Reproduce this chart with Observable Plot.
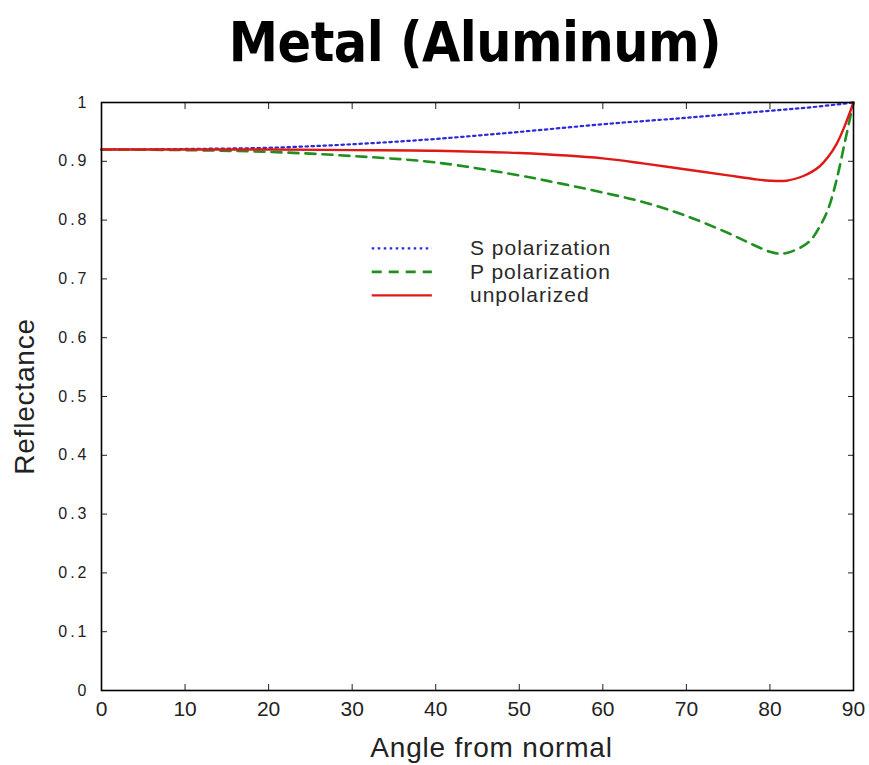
<!DOCTYPE html>
<html><head><meta charset="utf-8">
<script src="https://cdn.jsdelivr.net/npm/d3@7"></script>
<script src="https://cdn.jsdelivr.net/npm/@observablehq/plot@0.6"></script>
<style>
html,body{margin:0;padding:0;background:#fff;}
#wrap{position:relative;width:869px;height:765px;overflow:hidden;}
#title{position:absolute;left:0;top:15px;width:950px;text-align:center;font-family:"DejaVu Sans Condensed","DejaVu Sans",sans-serif;font-stretch:condensed;font-weight:bold;font-size:55px;line-height:55px;letter-spacing:-0.5px;color:#000;}
#chart{position:absolute;left:0;top:70px;}
</style></head>
<body><div id="wrap"><div id="title">Metal (Aluminum)</div><div id="chart"></div></div>
<script>
// Angles (degrees) and reflectance
const sAngles = [0, 10, 20, 30, 40, 50, 60, 70, 80, 85, 90];
const sValues = [0.92, 0.921, 0.923, 0.929, 0.938, 0.950, 0.963, 0.974, 0.986, 0.992, 1.0];

const pAngles = [0, 10, 20, 30, 40, 50, 55, 60, 65, 70, 75, 78, 80, 81, 82, 84, 85, 86, 87, 88, 89, 90];
const pValues = [0.92, 0.919, 0.916, 0.909, 0.898, 0.876, 0.862, 0.847, 0.830, 0.807, 0.778, 0.758, 0.746, 0.743, 0.744, 0.756, 0.768, 0.790, 0.820, 0.870, 0.935, 1.0];

const uAngles = [0, 10, 20, 30, 40, 50, 60, 65, 70, 75, 78, 80, 82, 84, 85, 86, 87, 88, 89, 90];
const uValues = [0.92, 0.92, 0.92, 0.919, 0.918, 0.914, 0.905, 0.896, 0.886, 0.876, 0.870, 0.867, 0.867, 0.875, 0.882, 0.892, 0.908, 0.930, 0.962, 1.0];

const seriesNames = ["S polarization", "P polarization", "unpolarized"];
const xTicks = [0, 10, 20, 30, 40, 50, 60, 70, 80, 90];
const yTicks = [0, 0.1, 0.2, 0.3, 0.4, 0.5, 0.6, 0.7, 0.8, 0.9, 1];

const styles = [
  {stroke: "#2a2ad8", strokeWidth: 2.2, strokeDasharray: "2.5,3.5"},
  {stroke: "#1f8f1f", strokeWidth: 2.6, strokeDasharray: "10,7"},
  {stroke: "#e01818", strokeWidth: 2.4}
];

const toRows = (angles, values) => angles.map((a, i) => ({angle: a, r: values[i]}));
const sRows = toRows(sAngles, sValues);
const pRows = toRows(pAngles, pValues);
const uRows = toRows(uAngles, uValues);

// legend placement (plot coordinates)
const legX1 = 32.4, legX2 = 39.6, legTX = 44.1;
const legY = [0.752, 0.712, 0.672];
const legRows = seriesNames.map((n, i) => ({name: n, y: legY[i], i}));

const fontFam = "'Liberation Sans', Arial, sans-serif";

const chart = Plot.plot({
  width: 869,
  height: 695,
  marginLeft: 101,
  marginRight: 16,
  marginTop: 32,
  marginBottom: 75,
  style: {fontFamily: fontFam, fontSize: "15px", color: "#222", background: "white"},
  x: {domain: [0, 90]},
  y: {domain: [0, 1]},
  marks: [
    Plot.axisX({ticks: xTicks, tickSize: -6, tickPadding: 17, tickFormat: d => String(d), label: "Angle from normal", labelAnchor: "center", labelOffset: 66, fontSize: 21}),
    Plot.axisX({anchor: "top", ticks: xTicks, tickSize: -6, tickFormat: () => "", label: null}),
    Plot.axisY({ticks: yTicks, tickSize: -6, tickPadding: 18, tickFormat: d => String(d), label: "Reflectance", labelAnchor: "center", labelOffset: 87, fontSize: 16}),
    Plot.axisY({anchor: "right", ticks: yTicks, tickSize: -6, tickFormat: () => "", label: null}),
    Plot.line(sRows, {x: "angle", y: "r", curve: "catmull-rom", ...styles[0]}),
    Plot.line(pRows, {x: "angle", y: "r", curve: "catmull-rom", ...styles[1]}),
    Plot.line(uRows, {x: "angle", y: "r", curve: "catmull-rom", ...styles[2]}),
    ...legRows.map(d => Plot.ruleY([d.y], {x1: legX1, x2: legX2, ...styles[d.i]})),
    Plot.text(legRows, {x: legTX, y: "y", text: "name", textAnchor: "start", fontSize: 21, fill: "#2a2a2a"}),
    Plot.frame({stroke: "#000", strokeWidth: 1.6})
  ]
});
// axis label styling: larger font, no arrows
chart.querySelectorAll("g[aria-label='x-axis label'] text, g[aria-label='y-axis label'] text").forEach(t => {
  t.setAttribute("font-size", "28");
  t.setAttribute("letter-spacing", "0.8");
  t.textContent = t.textContent.replace(/[\u2190-\u2193]/g, "").trim();
});
chart.querySelectorAll("g[aria-label='x-axis label'] text").forEach(t => t.setAttribute("dx", "14"));
chart.querySelectorAll("g[aria-label='y-axis tick label'] text").forEach(t => t.setAttribute("letter-spacing", "3"));
chart.querySelectorAll("g[aria-label='text'] text").forEach(t => t.setAttribute("letter-spacing", "1"));
document.getElementById("chart").appendChild(chart);
</script></body></html>
